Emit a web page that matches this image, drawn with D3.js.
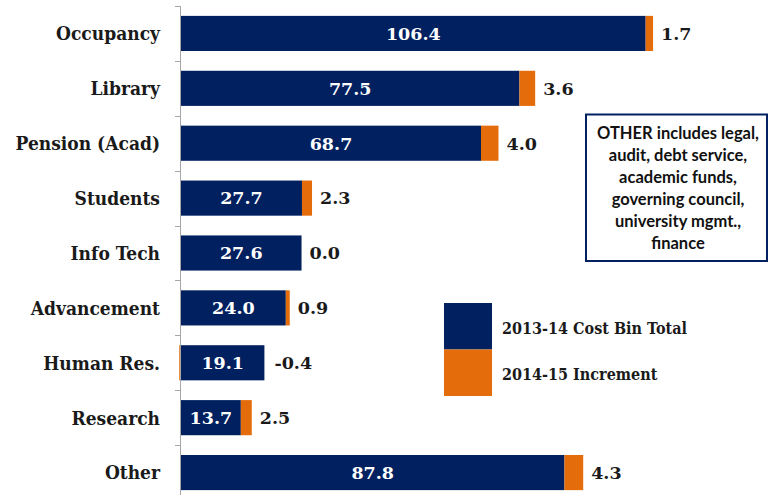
<!DOCTYPE html>
<html>
<head>
<meta charset="utf-8">
<script src="https://cdnjs.cloudflare.com/ajax/libs/d3/7.8.5/d3.min.js"></script>
<style>
  body { margin: 0; background: #fff; }
  svg { display: block; }
</style>
</head>
<body>
<script>
// chart data
var categories = ["Occupancy", "Library", "Pension (Acad)", "Students", "Info Tech",
                  "Advancement", "Human Res.", "Research", "Other"];
var baseTotals = [106.4, 77.5, 68.7, 27.7, 27.6, 24.0, 19.1, 13.7, 87.8];
var increments = [1.7, 3.6, 4.0, 2.3, 0.0, 0.9, -0.4, 2.5, 4.3];
var seriesNames = ["2013-14 Cost Bin Total", "2014-15 Increment"];
var noteLines = ["OTHER includes legal,", "audit, debt service,", "academic funds,",
                 "governing council,", "university mgmt.,", "finance"];

var width = 770, height = 495;
var navy = "#002060", orange = "#E46C0A";
var serif = "'DejaVu Serif', serif";
var serifCond = "'DejaVu Serif Condensed', 'DejaVu Serif', serif";

var svg = d3.select("body").append("svg")
  .attr("width", width).attr("height", height);

// scales
var x = d3.scaleLinear().domain([0, 120]).range([181, 181 + 120 * 4.367]);
var y = d3.scaleBand().domain(categories).range([6, 500])
  .paddingInner(0.36).paddingOuter(0.18);

var rows = categories.map(function(c, i) {
  return { cat: c, base: baseTotals[i], inc: increments[i] };
});

// base bars
svg.append("g").selectAll("rect").data(rows).enter().append("rect")
  .attr("x", x(0))
  .attr("y", function(d) { return y(d.cat); })
  .attr("width", function(d) { return x(d.base) - x(0); })
  .attr("height", y.bandwidth())
  .attr("fill", navy);

// increment bars (negative goes left of zero)
svg.append("g").selectAll("rect").data(rows).enter().append("rect")
  .attr("x", function(d) { return d.inc >= 0 ? x(d.base) : x(d.inc); })
  .attr("y", function(d) { return y(d.cat); })
  .attr("width", function(d) { return Math.abs(x(d.inc) - x(0)); })
  .attr("height", y.bandwidth())
  .attr("fill", orange);

// axis line + ticks at band boundaries
var step = y.step();
var axis = svg.append("g").attr("stroke", "#A6A6A6").attr("stroke-width", 1);
axis.append("line")
  .attr("x1", x(0) - 0.5).attr("x2", x(0) - 0.5)
  .attr("y1", y.range()[0]).attr("y2", height);
var tickYs = categories.map(function(c) { return y(c) - step * y.paddingInner() / 2; });
axis.selectAll(".tk").data(tickYs).enter().append("line")
  .attr("x1", x(0) - 6).attr("x2", x(0))
  .attr("y1", function(d) { return Math.round(d) + 0.5; })
  .attr("y2", function(d) { return Math.round(d) + 0.5; });

// category labels
svg.append("g").selectAll("text").data(rows).enter().append("text")
  .attr("x", 160)
  .attr("y", function(d) { return y(d.cat) + y.bandwidth() / 2; })
  .attr("dy", "0.36em")
  .attr("text-anchor", "end")
  .style("font-family", serifCond).style("font-weight", "bold")
  .style("font-size", "19px").attr("fill", "#1a1a1a")
  .text(function(d) { return d.cat; });

// base value labels inside bars
svg.append("g").selectAll("text").data(rows).enter().append("text")
  .attr("x", function(d) { return (x(0) + x(d.base)) / 2; })
  .attr("y", function(d) { return y(d.cat) + y.bandwidth() / 2; })
  .attr("dy", "0.36em")
  .attr("text-anchor", "middle")
  .style("font-family", serif).style("font-weight", "bold")
  .style("font-size", "17.5px").attr("fill", "#fff")
  .text(function(d) { return d.base.toFixed(1); });

// increment labels to the right
svg.append("g").selectAll("text").data(rows).enter().append("text")
  .attr("x", function(d) { return x(d.base + Math.max(d.inc, 0)) + (d.inc < 0 ? 10 : 8); })
  .attr("y", function(d) { return y(d.cat) + y.bandwidth() / 2; })
  .attr("dy", "0.36em")
  .style("font-family", serif).style("font-weight", "bold")
  .style("font-size", "17.5px").attr("fill", "#1a1a1a")
  .text(function(d) { return d.inc.toFixed(1); });

// legend
var legend = svg.append("g");
var swatchColors = [navy, orange];
legend.selectAll("rect").data(seriesNames).enter().append("rect")
  .attr("x", 444).attr("y", function(d, i) { return 303 + i * 46.5; })
  .attr("width", 48).attr("height", 46.5)
  .attr("fill", function(d, i) { return swatchColors[i]; });
legend.selectAll("text").data(seriesNames).enter().append("text")
  .attr("x", 502).attr("y", function(d, i) { return 328 + i * 46; })
  .attr("dy", "0.35em")
  .style("font-family", serifCond).style("font-weight", "bold")
  .style("font-size", "16px").attr("fill", "#1a1a1a")
  .text(function(d) { return d; });

// note box
var note = svg.append("g");
note.append("rect")
  .attr("x", 586).attr("y", 114.5).attr("width", 181).attr("height", 146.5)
  .attr("fill", "#fff").attr("stroke", navy).attr("stroke-width", 2);
note.selectAll("text").data(noteLines).enter().append("text")
  .attr("x", 678).attr("y", function(d, i) { return 133 + i * 22; })
  .attr("dy", "0.35em")
  .attr("text-anchor", "middle")
  .style("font-family", "Lato, sans-serif").style("font-weight", "bold")
  .style("font-size", "16.5px").attr("fill", "#111")
  .text(function(d) { return d; });
</script>
</body>
</html>
